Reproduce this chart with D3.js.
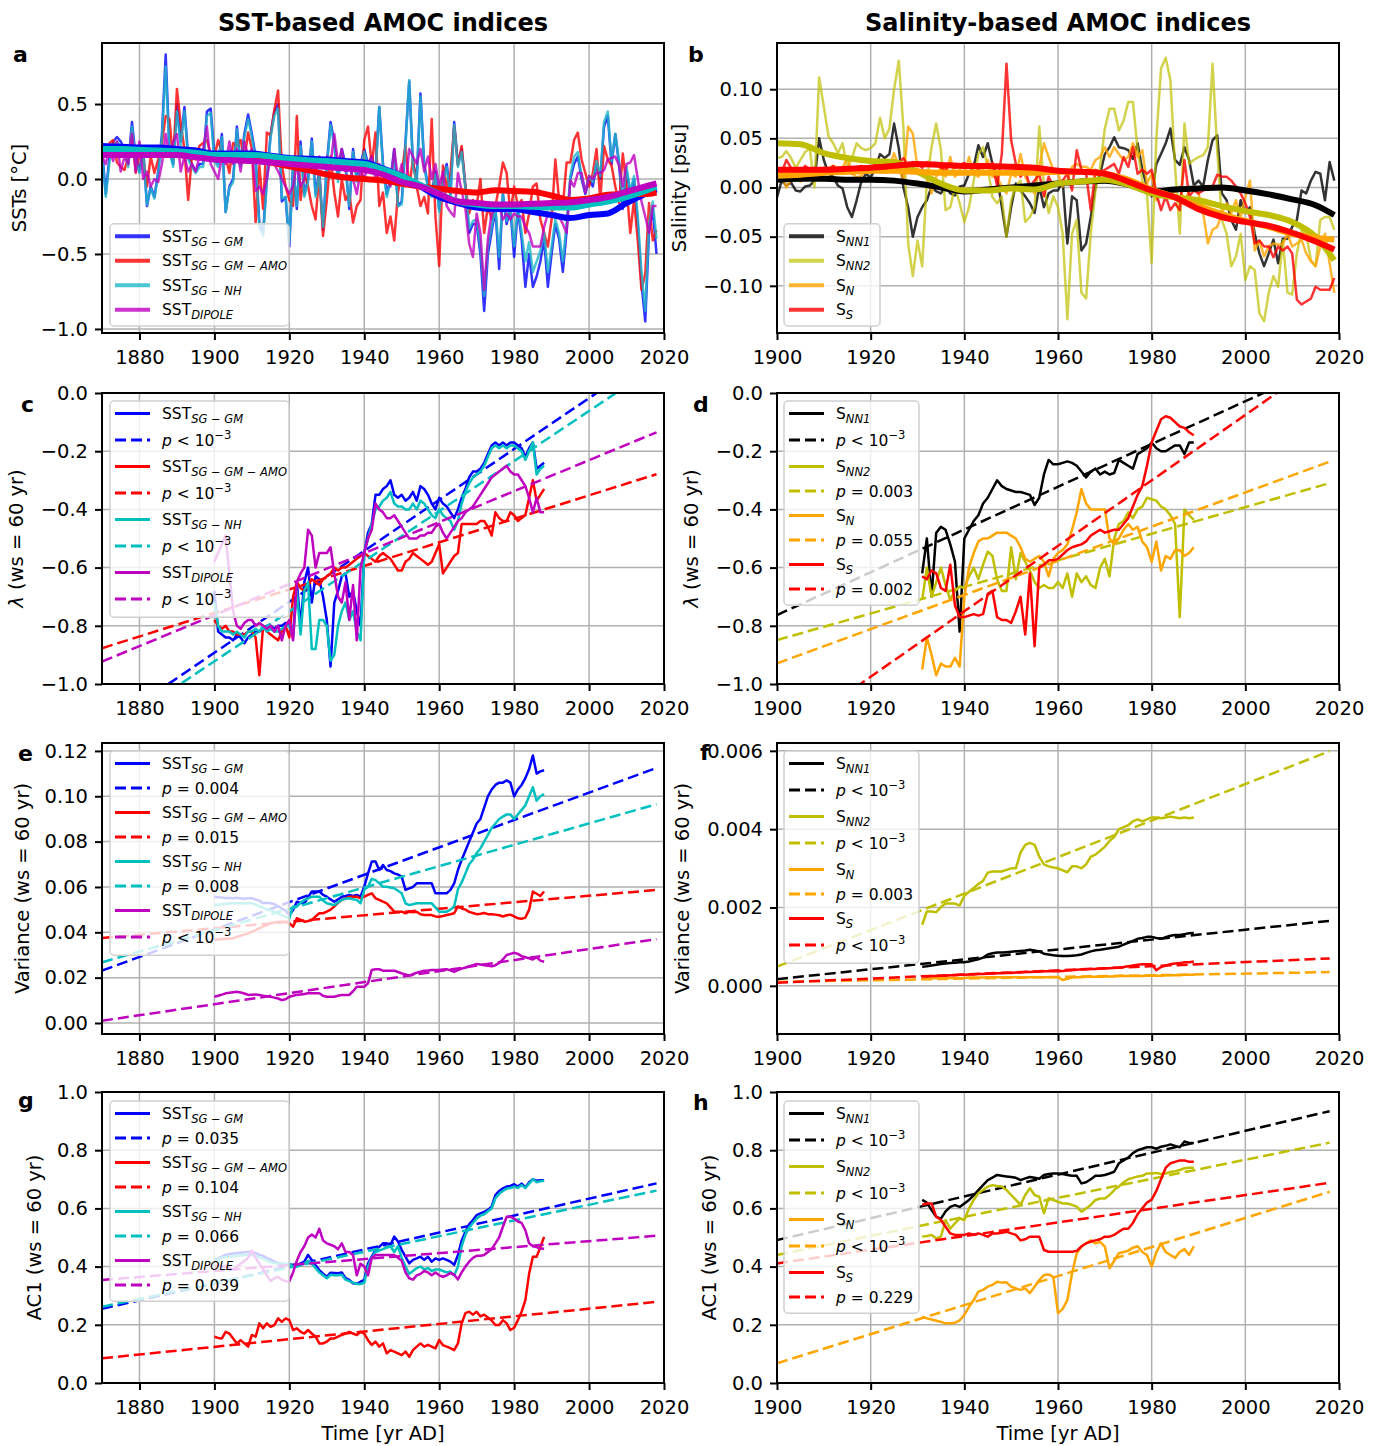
<!DOCTYPE html>
<meta charset="utf-8">
<script src="https://d3js.org/d3.v7.min.js"></script>
<style>
  body { margin: 0; background: #fff; }
  text { font-family: "DejaVu Sans", sans-serif; }
</style>
<div id="chart"></div>
<script>
// ---------- panel a: SST indices (annual, 1870-2018) ----------
var sstStart = 1870;
var sstGM = [0.20,-0.10,0.15,0.25,0.28,0.25,0.20,0.10,0.38,0.15,
  0.05,0.20,-0.18,-0.05,-0.12,0.05,0.30,0.83,0.20,0.10,
  0.50,0.25,0.48,0.15,0.10,0.05,0.10,0.10,0.45,0.47,
  0.15,0.10,0.30,-0.22,-0.05,0.00,0.35,0.10,0.30,0.43,
  0.30,0.15,-0.30,-0.36,0.00,0.30,0.45,0.50,-0.15,-0.12,
  -0.45,0.10,-0.20,0.25,-0.10,0.00,0.27,-0.10,0.05,-0.34,
  0.10,0.38,0.25,0.00,0.20,0.10,-0.20,0.20,0.00,0.10,
  0.20,0.10,0.15,0.05,0.48,0.10,-0.10,0.00,0.20,-0.18,
  -0.15,0.25,0.65,0.10,0.00,0.57,0.10,-0.05,-0.10,0.05,
  -0.20,0.00,0.10,-0.10,0.38,0.10,0.20,-0.05,-0.36,-0.30,
  -0.30,-0.50,-0.88,-0.50,-0.35,-0.20,-0.60,-0.10,-0.30,-0.20,
  -0.52,-0.20,-0.40,-0.72,-0.50,-0.72,-0.65,-0.55,-0.40,-0.72,
  -0.50,-0.30,-0.40,-0.62,-0.35,0.00,0.10,0.15,0.00,-0.10,
  0.00,-0.05,0.10,0.00,0.35,0.42,0.10,0.30,0.10,-0.20,
  0.05,-0.10,0.00,-0.30,-0.70,-0.95,-0.35,-0.20,-0.50];
var sstAMO = [0.15,0.17,0.24,0.26,0.11,0.08,0.06,0.15,0.31,0.04,
  0.17,0.13,-0.05,0.15,0.04,0.13,0.24,0.42,0.40,0.13,
  0.60,0.37,0.20,-0.14,0.15,0.13,0.22,0.24,0.26,0.17,
  0.15,0.26,0.17,0.15,0.04,0.24,0.22,0.26,0.13,0.31,
  0.20,-0.29,0.09,-0.20,0.31,0.29,0.46,0.59,0.09,-0.05,
  -0.14,-0.18,0.42,-0.14,0.04,-0.05,-0.18,-0.27,0.04,-0.38,
  -0.14,0.15,-0.09,-0.25,0.00,-0.14,-0.09,-0.29,-0.18,-0.14,
  0.26,0.35,0.09,0.31,-0.18,-0.09,-0.36,-0.25,-0.41,-0.09,
  0.04,0.22,-0.05,0.13,-0.05,-0.18,-0.12,-0.23,0.40,-0.25,
  -0.58,0.09,-0.05,0.04,0.35,0.09,0.22,-0.05,-0.23,-0.14,
  -0.18,0.00,-0.36,-0.18,-0.27,-0.18,-0.05,0.11,0.04,-0.23,
  -0.05,-0.18,-0.14,-0.36,-0.23,-0.05,-0.03,-0.27,-0.36,-0.45,
  -0.27,0.13,-0.14,-0.18,0.11,0.11,0.26,0.31,0.13,0.04,
  -0.05,0.04,0.20,-0.14,0.22,0.13,0.09,-0.05,-0.16,0.17,
  -0.05,-0.36,-0.14,-0.41,-0.74,-0.63,-0.16,-0.41,-0.34];
var sstNH = [0.18,-0.12,0.12,0.22,0.25,0.22,0.18,0.08,0.35,0.12,
  0.04,0.18,-0.17,-0.06,-0.13,0.03,0.28,0.75,0.18,0.08,
  0.45,0.22,0.45,0.13,0.08,0.04,0.08,0.08,0.42,0.44,
  0.12,0.08,0.28,-0.22,-0.06,-0.02,0.33,0.08,0.28,0.40,
  0.28,0.12,-0.32,-0.38,-0.02,0.28,0.42,0.47,-0.13,-0.12,
  -0.42,0.08,-0.18,0.22,-0.12,-0.02,0.25,-0.12,0.03,-0.32,
  0.08,0.36,0.22,-0.02,0.18,0.08,-0.18,0.18,-0.02,0.08,
  0.18,0.08,0.13,0.03,0.48,0.08,-0.12,-0.02,0.18,-0.18,
  -0.17,0.22,0.66,0.08,-0.02,0.55,0.08,-0.06,-0.12,0.03,
  -0.22,-0.02,0.08,-0.12,0.36,0.08,0.18,-0.06,-0.33,-0.28,
  -0.27,-0.45,-0.78,-0.45,-0.32,-0.18,-0.52,-0.10,-0.28,-0.18,
  -0.45,-0.18,-0.36,-0.55,-0.42,-0.62,-0.55,-0.48,-0.36,-0.62,
  -0.45,-0.27,-0.36,-0.55,-0.30,0.02,0.15,0.18,0.02,-0.08,
  0.02,-0.02,0.12,0.02,0.38,0.45,0.12,0.30,0.12,-0.15,
  0.08,-0.08,0.02,-0.25,-0.62,-0.88,-0.30,-0.15,-0.40];
var sstDipole = [0.15,0.10,0.20,0.12,0.25,0.05,0.15,0.10,0.30,0.05,
  0.25,0.00,0.05,-0.05,0.00,-0.02,0.10,0.30,0.15,0.25,
  0.30,0.05,0.15,0.05,0.10,0.05,0.15,0.20,0.35,0.10,
  0.05,0.00,0.15,0.10,0.25,0.10,0.20,0.05,0.25,0.15,
  0.20,-0.08,-0.05,-0.10,0.00,0.15,0.10,0.05,0.00,-0.05,
  -0.10,-0.05,0.10,-0.05,0.00,0.10,0.15,0.05,0.15,0.10,
  0.15,0.10,0.30,0.10,0.20,0.05,0.10,0.00,-0.10,0.05,
  0.00,0.10,0.15,0.00,0.10,0.05,0.00,-0.05,0.20,0.00,
  0.10,-0.05,0.20,0.15,0.10,0.20,0.05,0.15,0.00,0.10,
  -0.05,0.05,-0.18,-0.22,-0.25,0.04,-0.08,-0.20,-0.43,-0.52,
  -0.23,-0.36,-0.74,-0.40,-0.23,-0.20,-0.18,-0.27,-0.23,-0.27,
  -0.23,-0.25,-0.25,-0.32,-0.36,-0.45,-0.45,-0.45,-0.32,-0.23,
  -0.25,-0.23,-0.25,-0.30,-0.36,-0.01,-0.05,0.04,0.04,-0.09,
  0.02,0.00,0.04,0.04,0.06,0.13,0.14,0.15,0.09,-0.05,
  0.10,0.11,0.16,0.00,-0.15,-0.25,-0.36,-0.18,-0.18];
// smoothed SST indices
var smoothYearsA = [1870,1875,1880,1885,1890,1895,1900,1905,1910,1915,1920,1925,1930,1935,1940,1945,1950,1955,1960,1965,1970,1975,1980,1985,1990,1995,2000,2005,2010,2015,2018];
var sstGMSmooth = [0.22,0.215,0.21,0.21,0.20,0.19,0.17,0.17,0.17,0.155,0.14,0.135,0.13,0.12,0.11,0.07,0.02,-0.05,-0.12,-0.16,-0.19,-0.20,-0.20,-0.22,-0.24,-0.26,-0.24,-0.23,-0.16,-0.10,-0.07];
var sstAMOSmooth = [0.18,0.175,0.17,0.165,0.16,0.155,0.15,0.145,0.13,0.11,0.085,0.06,0.03,0.01,0.0,-0.01,-0.03,-0.05,-0.065,-0.08,-0.09,-0.075,-0.08,-0.085,-0.11,-0.14,-0.13,-0.105,-0.10,-0.10,-0.09];
var sstNHSmooth = [0.20,0.20,0.195,0.19,0.185,0.175,0.16,0.16,0.16,0.15,0.135,0.125,0.12,0.11,0.10,0.065,0.02,-0.04,-0.10,-0.15,-0.17,-0.18,-0.18,-0.185,-0.19,-0.19,-0.17,-0.15,-0.12,-0.08,-0.05];
var sstDipoleSmooth = [0.16,0.16,0.16,0.16,0.16,0.145,0.13,0.125,0.12,0.11,0.10,0.09,0.08,0.07,0.06,0.03,-0.02,-0.05,-0.10,-0.15,-0.16,-0.17,-0.17,-0.165,-0.16,-0.155,-0.14,-0.12,-0.085,-0.05,-0.03];

// ---------- panel b: salinity indices (annual, 1900-2019) ----------
var salStart = 1900;
var salNN1 = [-0.010,0.007,0.002,0.005,-0.003,-0.004,0.001,0.002,0.007,0.050,
  0.028,0.014,0.011,0.002,-0.001,-0.020,-0.030,-0.013,0.006,0.014,
  0.010,0.020,0.034,0.030,0.034,0.065,0.040,0.000,-0.020,-0.050,
  -0.030,-0.020,-0.013,0.001,-0.004,-0.006,0.001,-0.006,-0.008,0.001,
  0.002,0.014,0.021,0.043,0.031,0.045,0.024,0.011,-0.020,-0.050,
  -0.020,0.004,-0.003,-0.009,-0.016,-0.026,0.001,-0.020,-0.006,-0.003,
  -0.003,0.007,-0.057,-0.009,-0.013,-0.064,-0.057,-0.030,0.001,0.014,
  0.034,0.041,0.051,0.041,0.040,0.038,0.029,0.045,0.018,0.001,
  -0.009,0.024,0.034,0.045,0.060,0.028,0.023,0.041,0.028,0.002,
  0.007,0.001,0.028,0.048,0.053,-0.006,-0.013,-0.033,-0.043,-0.013,
  -0.026,-0.020,-0.047,-0.067,-0.080,-0.067,-0.053,-0.077,-0.052,-0.052,
  -0.040,-0.033,-0.003,-0.006,0.007,0.016,0.014,-0.013,0.026,0.007];
var salNN2 = [0.030,0.031,0.037,0.030,0.020,0.028,0.036,0.040,0.000,0.112,
  0.082,0.052,0.045,0.035,0.045,0.020,0.030,0.045,0.040,0.038,
  0.040,0.045,0.071,0.050,0.060,0.100,0.129,0.060,-0.057,-0.090,
  -0.054,-0.080,0.007,0.041,0.065,0.038,-0.023,-0.020,0.001,-0.016,
  -0.035,-0.020,0.007,0.034,0.041,0.021,-0.010,-0.016,-0.009,-0.050,
  -0.013,0.001,0.007,-0.035,-0.030,-0.020,0.062,0.001,-0.026,-0.009,
  -0.020,-0.047,-0.134,-0.047,-0.033,-0.107,-0.113,-0.047,-0.003,0.021,
  0.060,0.080,0.080,0.058,0.068,0.087,0.087,0.038,0.007,-0.006,
  -0.077,0.050,0.121,0.132,0.109,0.021,-0.047,0.065,0.024,0.028,
  0.031,0.033,0.041,0.126,0.038,-0.033,-0.047,-0.080,-0.070,-0.047,
  -0.094,-0.080,-0.084,-0.128,-0.136,-0.107,-0.090,-0.101,-0.054,-0.107,
  -0.109,-0.067,-0.044,-0.047,-0.074,-0.080,-0.033,-0.030,-0.030,-0.043];
var salN = [0.005,0.012,0.000,0.008,0.010,0.006,0.012,0.015,0.020,0.010,
  0.015,0.020,0.022,0.020,0.020,0.030,0.015,0.010,0.012,0.018,
  0.015,0.025,0.020,0.015,0.020,0.035,0.021,0.007,0.062,0.055,
  0.020,0.014,0.011,-0.006,0.011,0.021,0.011,0.031,0.011,0.018,
  0.014,0.031,0.014,0.011,0.018,0.028,0.011,0.011,0.001,-0.006,
  0.014,0.011,0.034,0.011,0.001,-0.006,0.021,0.045,0.031,0.018,
  0.014,0.001,0.007,0.021,0.024,0.021,0.021,0.018,0.028,0.031,
  0.041,0.031,0.041,0.034,0.028,0.031,0.045,0.031,0.038,0.004,
  0.014,-0.013,-0.003,-0.006,-0.009,-0.004,0.001,-0.016,-0.003,0.001,
  -0.006,-0.026,-0.057,-0.043,-0.040,-0.026,-0.016,-0.026,-0.013,-0.030,
  -0.010,0.007,-0.064,-0.054,-0.070,-0.060,-0.057,-0.058,-0.058,-0.047,
  -0.060,-0.057,-0.053,-0.067,-0.075,-0.080,-0.060,-0.047,-0.077,-0.107];
var salS = [0.020,0.015,0.028,0.020,0.018,0.015,0.022,0.018,0.020,0.015,
  0.020,0.018,0.022,0.016,0.020,0.018,0.014,0.020,0.022,0.018,
  0.020,0.024,0.018,0.022,0.026,0.022,0.025,0.030,0.022,0.026,
  0.024,0.020,0.026,0.022,0.025,0.020,0.018,0.024,0.020,0.022,
  0.025,0.020,0.024,0.018,0.022,0.020,0.025,0.001,0.034,0.126,
  0.048,0.024,0.011,0.018,0.001,0.007,0.014,-0.009,0.011,0.001,
  0.004,0.007,0.014,-0.003,0.038,0.018,0.014,-0.023,0.018,0.016,
  0.018,0.021,0.024,0.014,0.031,0.021,0.041,0.014,0.018,0.014,
  0.018,-0.006,-0.023,-0.009,-0.023,-0.016,-0.023,0.028,-0.009,-0.003,
  -0.006,-0.003,0.001,0.001,0.013,0.011,0.011,0.007,0.001,-0.006,
  -0.016,-0.030,-0.057,-0.054,-0.060,-0.060,-0.071,-0.060,-0.064,-0.060,
  -0.067,-0.114,-0.119,-0.116,-0.113,-0.101,-0.104,-0.104,-0.104,-0.092];
var smoothYearsB = [1900,1905,1910,1915,1920,1925,1930,1935,1940,1945,1950,1955,1960,1965,1970,1975,1980,1985,1990,1995,2000,2005,2010,2015,2019];
var salNN1Smooth = [0.008,0.009,0.009,0.008,0.008,0.007,0.004,0.000,-0.004,-0.002,0.000,0.002,0.004,0.006,0.007,0.003,-0.004,-0.002,-0.001,0.000,-0.003,-0.007,-0.012,-0.018,-0.028];
var salNN2Smooth = [0.045,0.044,0.035,0.030,0.027,0.026,0.016,0.004,-0.003,-0.003,-0.001,-0.002,0.004,0.006,0.008,0.003,-0.006,-0.010,-0.013,-0.019,-0.024,-0.028,-0.035,-0.050,-0.074];
var salNSmooth = [0.012,0.013,0.015,0.016,0.017,0.017,0.016,0.015,0.015,0.015,0.015,0.015,0.016,0.016,0.014,0.008,-0.002,-0.010,-0.019,-0.027,-0.034,-0.040,-0.047,-0.051,-0.053];
var salSSmooth = [0.018,0.018,0.018,0.019,0.020,0.022,0.024,0.023,0.022,0.022,0.021,0.020,0.017,0.016,0.014,0.006,-0.003,-0.010,-0.022,-0.030,-0.035,-0.039,-0.046,-0.055,-0.063];

// ---------- rolling-window indicators ----------
var ewsSstStart = 1900;   // SST windows: 1900-1988
var ewsSalStart = 1931;   // salinity windows: 1931-1989
var fitYearsSst = [1870, 2018];
var fitYearsSal = [1900, 2018];

// lambda, SST (c)
var lamGM = [-0.68,-0.82,-0.83,-0.84,-0.84,-0.85,-0.83,-0.84,-0.86,-0.84,
  -0.83,-0.82,-0.82,-0.81,-0.80,-0.80,-0.81,-0.80,-0.80,-0.79,
  -0.80,-0.83,-0.65,-0.80,-0.65,-0.60,-0.72,-0.63,-0.64,-0.70,
  -0.78,-0.94,-0.72,-0.68,-0.63,-0.62,-0.70,-0.68,-0.75,-0.80,
  -0.55,-0.48,-0.45,-0.35,-0.35,-0.33,-0.32,-0.30,-0.35,-0.36,
  -0.35,-0.37,-0.36,-0.34,-0.37,-0.32,-0.33,-0.35,-0.38,-0.40,
  -0.36,-0.38,-0.39,-0.41,-0.43,-0.40,-0.36,-0.33,-0.29,-0.27,
  -0.27,-0.26,-0.24,-0.21,-0.18,-0.17,-0.18,-0.17,-0.18,-0.17,
  -0.17,-0.18,-0.19,-0.22,-0.19,-0.17,-0.26,-0.25,-0.24];
var lamAMO = [-0.78,-0.80,-0.81,-0.80,-0.82,-0.82,-0.83,-0.83,-0.83,-0.82,
  -0.82,-0.84,-0.97,-0.80,-0.82,-0.83,-0.84,-0.85,-0.82,-0.80,
  -0.84,-0.70,-0.65,-0.67,-0.68,-0.66,-0.64,-0.65,-0.66,-0.64,
  -0.63,-0.62,-0.60,-0.61,-0.60,-0.60,-0.59,-0.58,-0.57,-0.56,
  -0.55,-0.56,-0.57,-0.58,-0.56,-0.55,-0.56,-0.57,-0.59,-0.61,
  -0.61,-0.58,-0.57,-0.55,-0.56,-0.57,-0.58,-0.59,-0.58,-0.55,
  -0.52,-0.62,-0.60,-0.58,-0.56,-0.55,-0.45,-0.45,-0.45,-0.45,
  -0.45,-0.44,-0.44,-0.46,-0.49,-0.41,-0.43,-0.44,-0.44,-0.41,
  -0.42,-0.44,-0.43,-0.42,-0.36,-0.30,-0.37,-0.35,-0.33];
var lamNH = [-0.72,-0.80,-0.82,-0.82,-0.82,-0.83,-0.82,-0.83,-0.84,-0.82,
  -0.82,-0.81,-0.82,-0.80,-0.82,-0.81,-0.82,-0.82,-0.81,-0.80,
  -0.80,-0.84,-0.68,-0.83,-0.68,-0.65,-0.88,-0.88,-0.78,-0.78,
  -0.80,-0.92,-0.90,-0.80,-0.75,-0.72,-0.78,-0.75,-0.82,-0.85,
  -0.55,-0.50,-0.45,-0.40,-0.39,-0.37,-0.36,-0.34,-0.38,-0.39,
  -0.39,-0.40,-0.40,-0.38,-0.40,-0.37,-0.38,-0.40,-0.42,-0.43,
  -0.40,-0.42,-0.43,-0.44,-0.47,-0.44,-0.38,-0.34,-0.31,-0.29,
  -0.28,-0.27,-0.25,-0.22,-0.19,-0.18,-0.19,-0.18,-0.19,-0.18,
  -0.18,-0.19,-0.20,-0.23,-0.20,-0.17,-0.28,-0.26,-0.25];
var lamDipole = [-0.58,-0.55,-0.52,-0.49,-0.62,-0.75,-0.80,-0.81,-0.79,-0.78,
  -0.78,-0.80,-0.79,-0.80,-0.81,-0.80,-0.82,-0.80,-0.85,-0.80,
  -0.78,-0.85,-0.65,-0.62,-0.60,-0.47,-0.49,-0.60,-0.55,-0.55,
  -0.55,-0.53,-0.62,-0.70,-0.72,-0.65,-0.78,-0.66,-0.85,-0.60,
  -0.55,-0.50,-0.47,-0.38,-0.40,-0.41,-0.43,-0.43,-0.42,-0.44,
  -0.46,-0.48,-0.50,-0.50,-0.50,-0.49,-0.49,-0.48,-0.48,-0.46,
  -0.45,-0.48,-0.50,-0.48,-0.46,-0.44,-0.43,-0.41,-0.40,-0.39,
  -0.37,-0.35,-0.33,-0.31,-0.29,-0.28,-0.27,-0.26,-0.25,-0.27,
  -0.28,-0.28,-0.30,-0.32,-0.36,-0.41,-0.36,-0.41,-0.41];
var lamSstFit = [[-1.155, 0.14], [-0.877, -0.279], [-1.18, 0.093], [-0.923, -0.135]];
var lamSstP = ["<", "<", "<", "<"];

// lambda, salinity (d)
var lamNN1 = [-0.62,-0.50,-0.70,-0.48,-0.46,-0.47,-0.52,-0.58,-0.82,-0.50,
  -0.47,-0.44,-0.42,-0.38,-0.36,-0.33,-0.30,-0.32,-0.33,-0.335,
  -0.34,-0.34,-0.345,-0.35,-0.385,-0.36,-0.28,-0.23,-0.245,-0.245,
  -0.24,-0.235,-0.24,-0.25,-0.27,-0.29,-0.27,-0.26,-0.28,-0.27,
  -0.28,-0.275,-0.23,-0.24,-0.25,-0.26,-0.21,-0.20,-0.19,-0.17,
  -0.19,-0.20,-0.20,-0.19,-0.18,-0.18,-0.21,-0.17,-0.17];
var lamNN2 = [-0.71,-0.60,-0.70,-0.65,-0.60,-0.66,-0.71,-0.68,-0.665,-0.67,
  -0.63,-0.60,-0.64,-0.59,-0.545,-0.56,-0.64,-0.68,-0.68,-0.53,
  -0.64,-0.55,-0.58,-0.61,-0.65,-0.67,-0.66,-0.67,-0.67,-0.65,
  -0.67,-0.62,-0.70,-0.62,-0.65,-0.63,-0.66,-0.67,-0.60,-0.57,
  -0.63,-0.50,-0.45,-0.44,-0.41,-0.43,-0.40,-0.39,-0.36,-0.365,
  -0.37,-0.39,-0.40,-0.42,-0.45,-0.77,-0.40,-0.42,-0.436];
var lamN = [-0.95,-0.84,-0.90,-0.97,-0.93,-0.94,-0.94,-0.91,-0.94,-0.70,
  -0.60,-0.55,-0.51,-0.50,-0.50,-0.49,-0.48,-0.48,-0.48,-0.49,
  -0.50,-0.53,-0.57,-0.58,-0.57,-0.56,-0.58,-0.63,-0.57,-0.55,
  -0.54,-0.52,-0.47,-0.41,-0.33,-0.38,-0.40,-0.40,-0.40,-0.40,
  -0.50,-0.52,-0.50,-0.47,-0.45,-0.47,-0.46,-0.51,-0.53,-0.58,
  -0.51,-0.61,-0.56,-0.57,-0.54,-0.54,-0.56,-0.55,-0.53];
var lamS = [-0.63,-0.64,-0.61,-0.62,-0.67,-0.68,-0.59,-0.73,-0.77,-0.77,
  -0.765,-0.76,-0.765,-0.76,-0.69,-0.68,-0.77,-0.78,-0.78,-0.79,
  -0.75,-0.70,-0.83,-0.62,-0.87,-0.60,-0.59,-0.575,-0.575,-0.57,
  -0.555,-0.54,-0.53,-0.525,-0.52,-0.51,-0.49,-0.48,-0.47,-0.48,
  -0.475,-0.47,-0.47,-0.45,-0.43,-0.39,-0.35,-0.32,-0.25,-0.17,
  -0.13,-0.09,-0.08,-0.085,-0.10,-0.115,-0.12,-0.135,-0.145];
var lamSalFit = [[-0.763, 0.104], [-0.849, -0.31], [-0.929, -0.236], [-1.2, 0.127]];
var lamSalP = ["<", "0.003", "0.055", "0.002"];

// variance, SST (e)
var varGM = [.0557,.0555,.0553,.0551,.0551,.0550,.0552,.0550,.0548,.0550,
  .0550,.0545,.0540,.0528,.0530,.0528,.0525,.0514,.0505,.0495,
  .0476,.0498,.0535,.0530,.0528,.0555,.0580,.0580,.0580,.0565,
  .0557,.0545,.0535,.0545,.0557,.0560,.0565,.0560,.0565,.0557,
  .0601,.0660,.0712,.0712,.0675,.0697,.0675,.0670,.0660,.0655,
  .0646,.0587,.0594,.0600,.0616,.0616,.0616,.0616,.0616,.0572,
  .0572,.0572,.0572,.0587,.0616,.0675,.0720,.0760,.0800,.0840,
  .0880,.0900,.0950,.1000,.1030,.1050,.1060,.1060,.1070,.1060,
  .1000,.1030,.1050,.1080,.1120,.1180,.1100,.1110,.1115];
var varAMO = [.0366,.0368,.0370,.0372,.0373,.0373,.0380,.0385,.0390,.0395,
  .0403,.0410,.0418,.0425,.0432,.0440,.0443,.0445,.0447,.0445,
  .0440,.0425,.0462,.0455,.0447,.0450,.0454,.0470,.0484,.0484,
  .0491,.0500,.0514,.0530,.0543,.0550,.0557,.0557,.0557,.0550,
  .0557,.0565,.0572,.0550,.0543,.0535,.0528,.0510,.0491,.0491,
  .0491,.0484,.0491,.0488,.0491,.0480,.0476,.0476,.0476,.0470,
  .0469,.0472,.0476,.0480,.0484,.0514,.0505,.0500,.0490,.0485,
  .0480,.0482,.0485,.0480,.0480,.0478,.0475,.0470,.0475,.0478,
  .0470,.0462,.0460,.0465,.0500,.0580,.0570,.0560,.0580];
var varNH = [.0520,.0522,.0524,.0526,.0527,.0528,.0528,.0528,.0527,.0528,
  .0528,.0522,.0515,.0508,.0500,.0498,.0490,.0482,.0475,.0468,
  .0462,.0514,.0514,.0530,.0543,.0550,.0557,.0557,.0557,.0540,
  .0528,.0524,.0520,.0532,.0543,.0548,.0550,.0546,.0543,.0528,
  .0587,.0601,.0636,.0630,.0616,.0601,.0601,.0598,.0594,.0583,
  .0572,.0528,.0520,.0524,.0528,.0528,.0528,.0528,.0528,.0510,
  .0491,.0491,.0491,.0500,.0514,.0590,.0620,.0660,.0700,.0720,
  .0750,.0770,.0800,.0830,.0860,.0880,.0900,.0910,.0920,.0920,
  .0900,.0920,.0940,.0960,.1000,.1040,.0980,.1000,.1010];
var varDipole = [.0116,.0120,.0125,.0131,.0133,.0136,.0138,.0135,.0130,.0124,
  .0125,.0126,.0124,.0120,.0118,.0116,.0112,.0108,.0101,.0105,
  .0116,.0120,.0124,.0126,.0128,.0131,.0131,.0131,.0131,.0120,
  .0116,.0116,.0116,.0120,.0124,.0124,.0124,.0140,.0160,.0160,
  .0160,.0175,.0234,.0237,.0237,.0231,.0231,.0231,.0231,.0225,
  .0219,.0214,.0209,.0215,.0222,.0226,.0231,.0232,.0234,.0234,
  .0234,.0236,.0237,.0232,.0226,.0234,.0240,.0245,.0250,.0255,
  .0260,.0258,.0255,.0252,.0250,.0255,.0265,.0280,.0300,.0305,
  .0310,.0305,.0295,.0290,.0285,.0280,.0290,.0275,.0270];
var varSstFit = [[0.0231, 0.1125], [0.0375, 0.0587], [0.0268, 0.0965], [0.001, 0.0370]];
var varSstP = ["0.004", "0.015", "0.008", "<"];

// variance, salinity (f)
var varNN1 = [.00049,.00050,.00052,.00054,.00056,.00057,.00058,.00059,.00060,.00060,
  .00062,.00065,.00068,.00072,.00080,.00083,.00085,.00085,.00086,.00087,
  .00088,.00089,.00090,.00092,.00090,.00088,.00082,.00080,.00078,.00077,
  .00076,.00076,.00077,.00078,.00080,.00084,.00088,.00091,.00092,.00094,
  .00096,.00098,.00100,.00105,.00110,.00115,.00120,.00122,.00125,.00125,
  .00122,.00120,.00124,.00128,.00130,.00130,.00132,.00134,.00135];
var varNN2 = [.00156,.00190,.00190,.00188,.00201,.00210,.00210,.00210,.00205,.00230,
  .00240,.00250,.00260,.00268,.00289,.00292,.00292,.00292,.00296,.00300,
  .00300,.00340,.00360,.00365,.00360,.00330,.00310,.00305,.00302,.00300,
  .00295,.00290,.00305,.00305,.00300,.00310,.00330,.00335,.00345,.00355,
  .00370,.00380,.00400,.00405,.00410,.00420,.00425,.00420,.00425,.00430,
  .00430,.00428,.00430,.00432,.00430,.00428,.00430,.00428,.00430];
var varN = [.00019,.00019,.00019,.00020,.00020,.00020,.00020,.00020,.00020,.00020,
  .00021,.00021,.00021,.00021,.00022,.00022,.00022,.00022,.00022,.00022,
  .00022,.00022,.00022,.00022,.00022,.00022,.00022,.00022,.00022,.00022,
  .00015,.00018,.00021,.00022,.00022,.00023,.00023,.00023,.00023,.00024,
  .00024,.00024,.00025,.00025,.00025,.00025,.00025,.00025,.00026,.00026,
  .00026,.00026,.00027,.00027,.00027,.00027,.00028,.00028,.00028];
var varS = [.00024,.00024,.00025,.00025,.00026,.00026,.00027,.00027,.00028,.00028,
  .00029,.00029,.00030,.00030,.00031,.00031,.00032,.00032,.00033,.00033,
  .00034,.00034,.00035,.00035,.00036,.00036,.00037,.00037,.00037,.00037,
  .00038,.00039,.00040,.00041,.00042,.00042,.00043,.00043,.00044,.00045,
  .00045,.00046,.00047,.00048,.00050,.00052,.00054,.00055,.00055,.00055,
  .00040,.00048,.00052,.00055,.00057,.00058,.00060,.00060,.00062];
var varSalFit = [[0.00017, 0.00166], [0.00049, 0.00599], [0.0001, 0.00035], [0.00008, 0.0007]];
var varSalP = ["<", "<", "0.003", "<"];

// AC1, SST (g)
var acGM = [.423,.428,.434,.440,.443,.445,.447,.448,.449,.450,
  .450,.447,.440,.437,.430,.425,.417,.412,.410,.408,
  .406,.406,.406,.411,.417,.440,.423,.405,.388,.376,
  .365,.379,.378,.377,.380,.360,.354,.343,.341,.348,
  .354,.411,.434,.457,.468,.480,.480,.474,.503,.486,
  .457,.434,.411,.423,.428,.434,.423,.434,.417,.428,
  .423,.428,.423,.417,.406,.440,.490,.520,.545,.560,
  .577,.583,.588,.595,.606,.646,.660,.669,.675,.677,
  .683,.675,.685,.672,.690,.700,.695,.697,.697];
var acAMO = [.159,.155,.153,.176,.170,.153,.136,.147,.136,.125,
  .165,.159,.205,.188,.205,.193,.199,.222,.210,.222,
  .216,.182,.188,.176,.170,.182,.170,.159,.136,.136,
  .142,.153,.153,.159,.165,.170,.176,.170,.165,.176,
  .170,.147,.131,.142,.125,.136,.102,.113,.108,.102,
  .096,.108,.090,.113,.125,.136,.125,.131,.125,.119,
  .148,.130,.125,.120,.113,.136,.205,.240,.245,.235,
  .245,.229,.235,.225,.215,.199,.199,.216,.205,.182,
  .190,.216,.245,.285,.376,.434,.434,.467,.502];
var acNH = [.420,.425,.430,.433,.435,.435,.437,.438,.440,.440,
  .440,.437,.432,.428,.420,.415,.412,.410,.408,.410,
  .410,.400,.400,.405,.410,.420,.410,.395,.380,.370,
  .360,.372,.370,.370,.372,.355,.350,.345,.340,.340,
  .345,.400,.430,.450,.455,.460,.465,.470,.450,.470,
  .430,.400,.375,.385,.395,.400,.390,.395,.385,.390,
  .390,.385,.380,.383,.370,.400,.470,.510,.535,.550,
  .565,.575,.580,.590,.600,.635,.650,.660,.668,.670,
  .675,.670,.680,.670,.685,.700,.690,.693,.695];
var acDipole = [.400,.405,.400,.400,.395,.390,.400,.410,.420,.430,
  .455,.430,.410,.390,.370,.350,.360,.365,.355,.350,
  .350,.380,.420,.450,.470,.500,.510,.500,.530,.490,
  .480,.475,.470,.460,.480,.450,.450,.440,.370,.410,
  .400,.370,.430,.440,.440,.440,.440,.440,.440,.430,
  .420,.380,.360,.355,.370,.375,.385,.380,.370,.380,
  .370,.365,.370,.378,.372,.356,.380,.400,.417,.430,
  .437,.437,.440,.450,.460,.480,.500,.537,.571,.572,
  .565,.555,.550,.525,.480,.470,.467,.462,.461];
var acSstFit = [[0.255, 0.686], [0.085, 0.279], [0.262, 0.661], [0.354, 0.506]];
var acSstP = ["0.035", "0.104", "0.066", "0.039"];

// AC1, salinity (h)
var acNN1 = [.629,.620,.594,.571,.565,.590,.605,.611,.605,.617,
  .629,.645,.663,.680,.697,.706,.715,.712,.710,.708,
  .705,.697,.703,.708,.705,.702,.715,.718,.720,.720,
  .718,.715,.712,.712,.686,.690,.700,.712,.712,.715,
  .720,.726,.755,.765,.775,.790,.800,.805,.810,.810,
  .805,.812,.815,.820,.815,.810,.830,.825,.825];
var acNN2 = [.503,.505,.509,.497,.503,.560,.530,.549,.566,.560,
  .600,.629,.652,.663,.675,.680,.677,.675,.663,.646,
  .629,.612,.646,.669,.646,.640,.583,.635,.629,.623,
  .617,.617,.612,.606,.589,.600,.612,.629,.634,.634,
  .646,.663,.675,.690,.700,.705,.710,.712,.720,.720,
  .722,.718,.720,.725,.728,.732,.738,.740,.740];
var acN = [.228,.222,.218,.214,.210,.205,.205,.207,.215,.234,
  .262,.285,.314,.320,.331,.337,.348,.345,.346,.331,
  .325,.320,.325,.309,.331,.354,.371,.373,.365,.240,
  .255,.285,.377,.446,.469,.480,.490,.480,.485,.469,
  .394,.420,.446,.450,.455,.465,.470,.450,.440,.400,
  .450,.480,.450,.440,.430,.450,.460,.440,.470];
var acS = [.612,.617,.617,.571,.560,.537,.514,.509,.509,.509,
  .514,.509,.514,.509,.503,.514,.514,.516,.520,.514,
  .509,.490,.494,.503,.503,.503,.457,.451,.451,.451,
  .451,.451,.451,.454,.469,.480,.486,.490,.494,.503,
  .503,.509,.520,.530,.530,.550,.580,.600,.620,.630,
  .660,.700,.740,.755,.760,.765,.765,.760,.760];
var acSalFit = [[0.491, 0.934], [0.44, 0.826], [0.068, 0.657], [0.411, 0.688]];
var acSalP = ["<", "<", "<", "0.229"];

// ---------- drawing ----------
var W = 1382, H = 1446;
var svg = d3.select("#chart").append("svg").attr("width", W).attr("height", H);
svg.append("rect").attr("width", W).attr("height", H).attr("fill", "#fff");
var defs = svg.append("defs");

var cB = "#0000ff", cR = "#ff0000", cC = "#00bfbf", cM = "#bf00bf";
var cK = "#000000", cY = "#bfbf00", cO = "#ffa500";
var sstColors = [cB, cR, cC, cM];
var salColors = [cK, cY, cO, cR];
var sstNames = [[["SST","n"],["SG − GM","sub"]], [["SST","n"],["SG − GM − AMO","sub"]],
                [["SST","n"],["SG − NH","sub"]], [["SST","n"],["DIPOLE","sub"]]];
var salNames = [[["S","n"],["NN1","sub"]], [["S","n"],["NN2","sub"]],
                [["S","n"],["N","sub"]], [["S","n"],["S","sub"]]];

var colL = {left: 102, right: 664, xDomain: [1870, 2020], xTicks: d3.range(1880, 2021, 20)};
var colR = {left: 777, right: 1339, xDomain: [1900, 2020], xTicks: d3.range(1900, 2021, 20)};
var rows = [[43, 333], [393, 684], [743, 1034], [1092, 1383]];

function pts(start, vals) { return vals.map(function(v, i) { return [start + i, v]; }); }
function knots(years, vals) { return years.map(function(y, i) { return [y, vals[i]]; }); }
function pLabel(s) {
  if (s === "<") return [["p","i"],[" < 10","n"],["−3","sup"]];
  return [["p","i"],[" = " + s,"n"]];
}

function drawLegend(g, L) {
  var hs = L.rows.map(function(r) { return r.sup ? 28.5 : 24.5; });
  var centers = [], c = 0;
  hs.forEach(function(h, i) { c = i === 0 ? 12.5 : c + (hs[i - 1] + h) / 2; centers.push(c); });
  var height = c + hs[hs.length - 1] / 2 + 4;
  var top = L.top != null ? L.top : L.bottom - height;
  var lg = g.append("g");
  lg.append("rect").attr("x", L.x).attr("y", top).attr("width", L.w).attr("height", height)
    .attr("rx", 4).attr("fill", "#fff").attr("fill-opacity", 0.8)
    .attr("stroke", "#d0d0d0").attr("stroke-width", 1.5);
  L.rows.forEach(function(r, i) {
    var cy = top + centers[i];
    lg.append("line").attr("x1", L.x + 5).attr("x2", L.x + 40).attr("y1", cy).attr("y2", cy)
      .attr("stroke", r.color).attr("stroke-width", r.lw).attr("stroke-opacity", r.op || 1)
      .attr("stroke-dasharray", r.dash ? "11,5" : null);
    var t = lg.append("text").attr("x", L.x + 52).attr("y", cy + 5.5).attr("font-size", 15.5);
    var shift = 0;
    r.label.forEach(function(seg) {
      var ts = t.append("tspan").text(seg[0]);
      var target = seg[1] === "sub" ? 4 : (seg[1] === "sup" ? -7 : 0);
      ts.attr("dy", target - shift);
      shift = target;
      if (seg[1] === "sub" || seg[1] === "sup") ts.attr("font-size", 11.5);
      if (seg[1] === "sub" || seg[1] === "i") ts.attr("font-style", "italic");
    });
  });
}

function drawPanel(p) {
  var x = d3.scaleLinear().domain(p.col.xDomain).range([p.col.left, p.col.right]);
  var y = d3.scaleLinear().domain(p.yDomain).range([p.row[1], p.row[0]]);
  var left = p.col.left, right = p.col.right, top = p.row[0], bottom = p.row[1];
  var g = svg.append("g");
  var cid = "clip_" + p.letter;
  defs.append("clipPath").attr("id", cid).append("rect")
    .attr("x", left).attr("y", top).attr("width", right - left).attr("height", bottom - top);

  // grid
  g.append("g").selectAll("line").data(p.col.xTicks).enter().append("line")
    .attr("x1", function(d) { return x(d); }).attr("x2", function(d) { return x(d); })
    .attr("y1", top).attr("y2", bottom).attr("stroke", "#b0b0b0").attr("stroke-width", 1.5);
  g.append("g").selectAll("line").data(p.yTicks).enter().append("line")
    .attr("y1", function(d) { return y(d); }).attr("y2", function(d) { return y(d); })
    .attr("x1", left).attr("x2", right).attr("stroke", "#b0b0b0").attr("stroke-width", 1.5);

  // data
  var plot = g.append("g").attr("clip-path", "url(#" + cid + ")");
  p.series.forEach(function(s) {
    var line = d3.line().x(function(d) { return x(d[0]); }).y(function(d) { return y(d[1]); })
      .curve(s.smooth ? d3.curveMonotoneX : d3.curveLinear);
    plot.append("path").datum(s.data).attr("d", line).attr("fill", "none")
      .attr("stroke", s.color).attr("stroke-width", s.w).attr("stroke-opacity", s.op || 1)
      .attr("stroke-dasharray", s.dash ? "11,5" : null)
      .attr("stroke-linejoin", "round");
  });

  // axes
  var xa = g.append("g").attr("transform", "translate(0," + bottom + ")")
    .call(d3.axisBottom(x).tickValues(p.col.xTicks).tickFormat(d3.format("d"))
      .tickSize(7).tickPadding(10).tickSizeOuter(0));
  var ya = g.append("g").attr("transform", "translate(" + left + ",0)")
    .call(d3.axisLeft(y).tickValues(p.yTicks).tickFormat(d3.format(p.yFormat))
      .tickSize(7).tickPadding(7).tickSizeOuter(0));
  [xa, ya].forEach(function(a) {
    a.attr("font-size", 19.5).attr("font-family", "DejaVu Sans");
    a.select(".domain").remove();
    a.selectAll(".tick line").attr("stroke", "#000").attr("stroke-width", 2);
    a.selectAll(".tick text").attr("fill", "#000");
  });
  g.append("rect").attr("x", left).attr("y", top).attr("width", right - left).attr("height", bottom - top)
    .attr("fill", "none").attr("stroke", "#000").attr("stroke-width", 2);

  drawLegend(g, p.legend);

  // y label
  var yl = g.append("text").attr("transform", "translate(" + p.ylabelX + "," + (top + bottom) / 2 + ") rotate(-90)")
    .attr("text-anchor", "middle").attr("font-size", 19.5);
  p.ylabel.forEach(function(seg) {
    var ts = yl.append("tspan").text(seg[0]);
    if (seg[1] === "i") ts.attr("font-style", "italic");
  });
  // panel letter
  g.append("text").attr("x", p.letterPos[0]).attr("y", p.letterPos[1])
    .attr("font-size", 22).attr("font-weight", "bold").text(p.letter);
}

// series builders
function rawSeries(start, arrays, colors, ops) {
  return arrays.map(function(a, i) { return {data: pts(start, a), color: colors[i], w: 2.5, op: ops[i]}; });
}
function smoothSeries(years, arrays, colors) {
  return arrays.map(function(a, i) { return {data: knots(years, a), color: colors[i], w: 6, smooth: true}; });
}
function ewsSeries(start, arrays, fits, fitYears, colors) {
  var out = [];
  arrays.forEach(function(a, i) {
    out.push({data: pts(start, a), color: colors[i], w: 2.5});
    out.push({data: [[fitYears[0], fits[i][0]], [fitYears[1], fits[i][1]]], color: colors[i], w: 2.5, dash: true});
  });
  return out;
}
function ewsLegendRows(names, pvals, colors) {
  var r = [];
  names.forEach(function(n, i) {
    r.push({color: colors[i], lw: 3, label: n, sup: false});
    r.push({color: colors[i], lw: 3, dash: true, label: pLabel(pvals[i]), sup: pvals[i] === "<"});
  });
  return r;
}

// a
drawPanel({
  letter: "a", letterPos: [13, 62], col: colL, row: rows[0],
  yDomain: [-1.027, 0.907], yTicks: [-1, -0.5, 0, 0.5], yFormat: ".1f",
  ylabel: [["SSTs [°C]", "n"]], ylabelX: 26,
  series: rawSeries(sstStart, [sstGM, sstAMO, sstNH, sstDipole], ["#0000ff", "#ff0000", "#20b8c8", "#bf00bf"], [0.8, 0.8, 0.8, 0.8])
    .concat(smoothSeries(smoothYearsA, [sstGMSmooth, sstAMOSmooth, sstNHSmooth, sstDipoleSmooth], sstColors)),
  legend: {x: 110, bottom: 326, w: 179, rows: sstNames.map(function(n, i) {
    return {color: ["#0000ff", "#ff0000", "#20b8c8", "#bf00bf"][i], op: 0.8, lw: 4, label: n}; })}
});
// b
drawPanel({
  letter: "b", letterPos: [688, 62], col: colR, row: rows[0],
  yDomain: [-0.148, 0.147], yTicks: [-0.1, -0.05, 0, 0.05, 0.1], yFormat: ".2f",
  ylabel: [["Salinity [psu]", "n"]], ylabelX: 686,
  series: rawSeries(salStart, [salNN1, salNN2, salN, salS], salColors, [0.8, 0.7, 0.8, 0.8])
    .concat(smoothSeries(smoothYearsB, [salNN1Smooth, salNN2Smooth, salNSmooth, salSSmooth], salColors)),
  legend: {x: 784, bottom: 326, w: 96, rows: salNames.map(function(n, i) {
    return {color: salColors[i], op: [0.8, 0.7, 0.8, 0.8][i], lw: 4, label: n}; })}
});
// c
drawPanel({
  letter: "c", letterPos: [21, 412], col: colL, row: rows[1],
  yDomain: [-1, 0], yTicks: [-1, -0.8, -0.6, -0.4, -0.2, 0], yFormat: ".1f",
  ylabel: [["λ", "i"], [" (ws = 60 yr)", "n"]], ylabelX: 23,
  series: ewsSeries(ewsSstStart, [lamGM, lamAMO, lamNH, lamDipole], lamSstFit, fitYearsSst, sstColors),
  legend: {x: 110, top: 401, w: 179, rows: ewsLegendRows(sstNames, lamSstP, sstColors)}
});
// d
drawPanel({
  letter: "d", letterPos: [693, 412], col: colR, row: rows[1],
  yDomain: [-1, 0], yTicks: [-1, -0.8, -0.6, -0.4, -0.2, 0], yFormat: ".1f",
  ylabel: [["λ", "i"], [" (ws = 60 yr)", "n"]], ylabelX: 698,
  series: ewsSeries(ewsSalStart, [lamNN1, lamNN2, lamN, lamS], lamSalFit, fitYearsSal, salColors),
  legend: {x: 784, top: 401, w: 135, rows: ewsLegendRows(salNames, lamSalP, salColors)}
});
// e
drawPanel({
  letter: "e", letterPos: [18, 761], col: colL, row: rows[2],
  yDomain: [-0.00485, 0.1235], yTicks: [0, 0.02, 0.04, 0.06, 0.08, 0.10, 0.12], yFormat: ".2f",
  ylabel: [["Variance (ws = 60 yr)", "n"]], ylabelX: 29,
  series: ewsSeries(ewsSstStart, [varGM, varAMO, varNH, varDipole], varSstFit, fitYearsSst, sstColors),
  legend: {x: 110, top: 751, w: 179, rows: ewsLegendRows(sstNames, varSstP, sstColors)}
});
// f
drawPanel({
  letter: "f", letterPos: [700, 760], col: colR, row: rows[2],
  yDomain: [-0.00123, 0.0062], yTicks: [0, 0.002, 0.004, 0.006], yFormat: ".3f",
  ylabel: [["Variance (ws = 60 yr)", "n"]], ylabelX: 689,
  series: ewsSeries(ewsSalStart, [varNN1, varNN2, varN, varS], varSalFit, fitYearsSal, salColors),
  legend: {x: 784, top: 751, w: 135, rows: ewsLegendRows(salNames, varSalP, salColors)}
});
// g
drawPanel({
  letter: "g", letterPos: [18, 1108], col: colL, row: rows[3],
  yDomain: [0, 1], yTicks: [0, 0.2, 0.4, 0.6, 0.8, 1.0], yFormat: ".1f",
  ylabel: [["AC1 (ws = 60 yr)", "n"]], ylabelX: 41,
  series: ewsSeries(ewsSstStart, [acGM, acAMO, acNH, acDipole], acSstFit, fitYearsSst, sstColors),
  legend: {x: 110, top: 1101, w: 179, rows: ewsLegendRows(sstNames, acSstP, sstColors)}
});
// h
drawPanel({
  letter: "h", letterPos: [693, 1110], col: colR, row: rows[3],
  yDomain: [0, 1], yTicks: [0, 0.2, 0.4, 0.6, 0.8, 1.0], yFormat: ".1f",
  ylabel: [["AC1 (ws = 60 yr)", "n"]], ylabelX: 716,
  series: ewsSeries(ewsSalStart, [acNN1, acNN2, acN, acS], acSalFit, fitYearsSal, salColors),
  legend: {x: 784, top: 1101, w: 135, rows: ewsLegendRows(salNames, acSalP, salColors)}
});

// titles and x labels
svg.append("text").attr("x", 383).attr("y", 31).attr("text-anchor", "middle")
  .attr("font-size", 24).attr("font-weight", "bold").text("SST-based AMOC indices");
svg.append("text").attr("x", 1058).attr("y", 31).attr("text-anchor", "middle")
  .attr("font-size", 24).attr("font-weight", "bold").text("Salinity-based AMOC indices");
svg.append("text").attr("x", 383).attr("y", 1440).attr("text-anchor", "middle")
  .attr("font-size", 19.5).text("Time [yr AD]");
svg.append("text").attr("x", 1058).attr("y", 1440).attr("text-anchor", "middle")
  .attr("font-size", 19.5).text("Time [yr AD]");
</script>
